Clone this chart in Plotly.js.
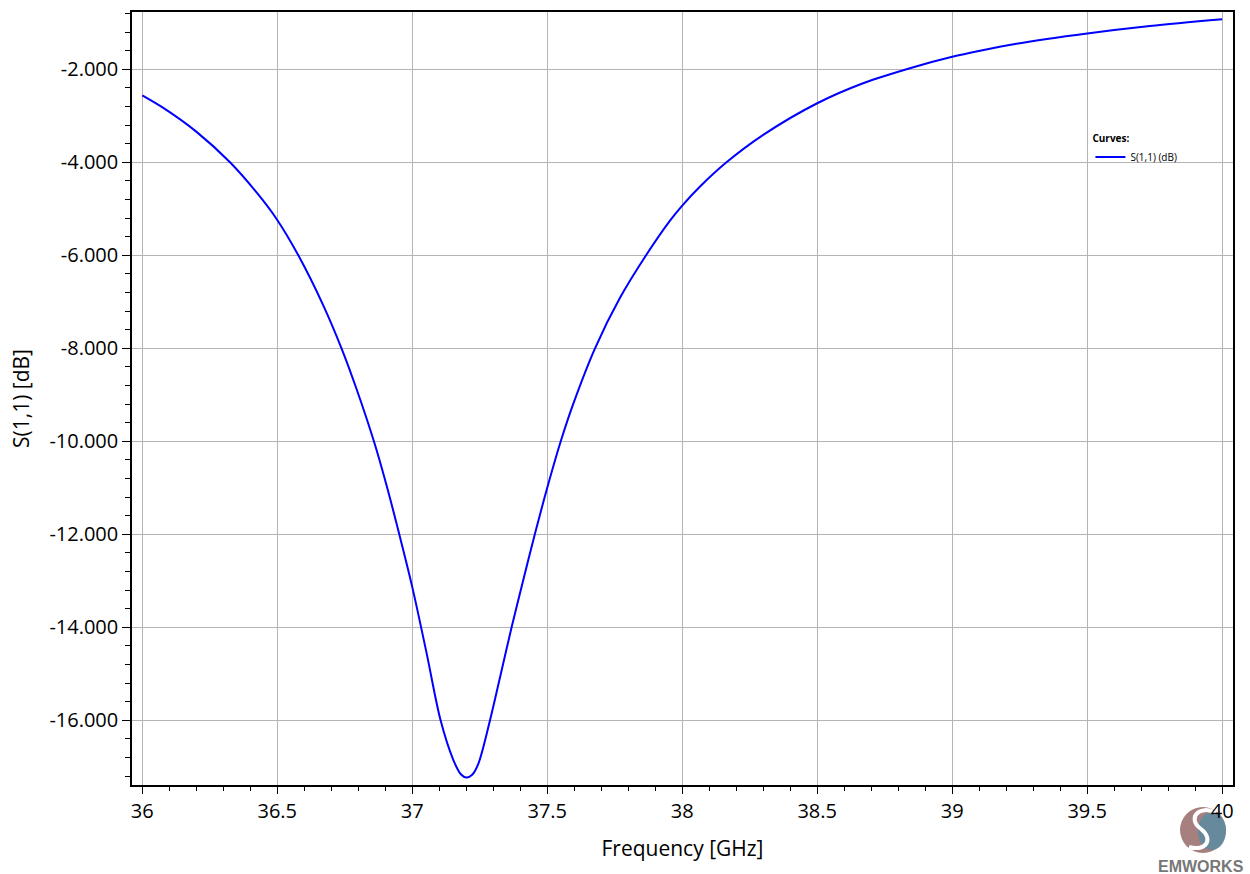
<!DOCTYPE html>
<html>
<head>
<meta charset="utf-8">
<script src="https://cdn.plot.ly/plotly-3.0.1.min.js"></script>
<style>html,body{margin:0;padding:0;background:#fff;}#chart{width:1250px;height:874px;}</style>
</head>
<body>
<div id="chart"></div>
<script>
const freqGHz = [36.0, 36.078, 36.2, 36.325, 36.425, 36.5, 36.578, 36.67, 36.738, 36.794, 36.858, 36.905, 36.952, 37.0, 37.053, 37.105, 37.152, 37.18, 37.2, 37.222, 37.245, 37.288, 37.325, 37.368, 37.411, 37.454, 37.5, 37.55, 37.596, 37.677, 37.769, 37.866, 37.954, 38.0, 38.066, 38.164, 38.3, 38.5, 38.67, 38.856, 39.0, 39.103, 39.238, 39.5, 39.732, 40.0];
const s11dB = [-2.56, -2.83, -3.34, -4.0, -4.66, -5.24, -6.0, -7.07, -8.0, -8.88, -10.0, -10.95, -12.0, -13.13, -14.55, -16.0, -16.85, -17.16, -17.23, -17.17, -16.93, -16.0, -15.08, -14.0, -12.99, -12.0, -11.0, -10.0, -9.2, -8.0, -6.92, -6.0, -5.26, -4.93, -4.52, -4.0, -3.41, -2.73, -2.3, -1.955, -1.73, -1.6, -1.45, -1.23, -1.07, -0.925];
const yTickVals = [-2, -4, -6, -8, -10, -12, -14, -16];
const yTickText = ["-2.000", "-4.000", "-6.000", "-8.000", "-10.000", "-12.000", "-14.000", "-16.000"];
const xTickVals = [36, 36.5, 37, 37.5, 38, 38.5, 39, 39.5, 40];
const xTickText = ["36", "36.5", "37", "37.5", "38", "38.5", "39", "39.5", "40"];
const seriesName = "S(1,1) (dB)";

const fontFam = "'Open Sans', 'Noto Sans', sans-serif";
const px = v => (v - 132) / 1101;
const py = v => (785 - v) / 773;

const trace = {
  x: freqGHz, y: s11dB, type: 'scatter', mode: 'lines', name: seriesName,
  line: {color: '#0000ff', width: 2, shape: 'spline', smoothing: 0.9}
};

function sPath() {
  const p = [[1216, 813], [1200, 804], [1186, 818], [1201, 829], [1214, 839], [1206, 852], [1189, 847]];
  const f = q => px(q[0]) + ',' + py(q[1]);
  return 'M ' + f(p[0]) + ' C ' + f(p[1]) + ' ' + f(p[2]) + ' ' + f(p[3]) + ' C ' + f(p[4]) + ' ' + f(p[5]) + ' ' + f(p[6]);
}

const layout = {
  width: 1250, height: 874,
  margin: {l: 132, r: 17, t: 12, b: 89},
  paper_bgcolor: '#ffffff', plot_bgcolor: '#ffffff',
  font: {family: fontFam, color: '#000'},
  showlegend: true,
  legend: {
    x: 0.8705, y: 0.848, xanchor: 'left', yanchor: 'top',
    bgcolor: 'rgba(0,0,0,0)',
    font: {size: 10, family: fontFam},
    title: {text: '<b>Curves:</b>', side: 'top', font: {size: 10, family: fontFam}},
    itemwidth: 30, tracegroupgap: 0
  },
  xaxis: {
    range: [35.962, 40.040],
    tickmode: 'array', tickvals: xTickVals, ticktext: xTickText,
    ticks: 'outside', ticklen: 7, tickwidth: 1, tickcolor: '#000',
    minor: {tickmode: 'linear', tick0: 36, dtick: 0.1, ticks: 'outside', ticklen: 4, tickcolor: '#000', showgrid: false},
    showline: true, linecolor: '#000', linewidth: 1.5, mirror: true,
    showgrid: true, gridcolor: '#b4b4b4', gridwidth: 1,
    zeroline: false,
    tickfont: {size: 20, family: fontFam},
    title: {text: 'Frequency [GHz]', font: {size: 21, family: fontFam}, standoff: 19}
  },
  yaxis: {
    range: [-17.391, -0.768],
    tickmode: 'array', tickvals: yTickVals, ticktext: yTickText,
    ticks: 'outside', ticklen: 8, tickwidth: 1, tickcolor: '#000',
    minor: {tickmode: 'linear', tick0: 0, dtick: 0.4, ticks: 'outside', ticklen: 5, tickcolor: '#000', showgrid: false},
    showline: true, linecolor: '#000', linewidth: 1.5, mirror: true,
    showgrid: true, gridcolor: '#b4b4b4', gridwidth: 1,
    zeroline: false,
    tickfont: {size: 20, family: fontFam},
    title: {text: 'S(1,1) [dB]', font: {size: 21, family: fontFam}, standoff: 14}
  },
  shapes: [
    {type: 'circle', xref: 'paper', yref: 'paper', layer: 'below',
     x0: px(1180), x1: px(1226), y0: py(853), y1: py(807),
     fillcolor: 'rgba(150,105,105,0.85)', line: {width: 0}},
    {type: 'circle', xref: 'paper', yref: 'paper', layer: 'below',
     x0: px(1198), x1: px(1226), y0: py(850), y1: py(812),
     fillcolor: 'rgba(90,140,160,0.85)', line: {width: 0}},
    {type: 'path', xref: 'paper', yref: 'paper', layer: 'below',
     path: sPath(), line: {color: '#ffffff', width: 4}}
  ],
  annotations: [
    {text: '<b>EMWORKS</b>', xref: 'paper', yref: 'paper', x: px(1201), y: py(866),
     showarrow: false, font: {size: 16, color: '#777777', family: 'Liberation Sans, Arial, sans-serif'}, xanchor: 'center', yanchor: 'middle'}
  ]
};

Plotly.newPlot('chart', [trace], layout, {displayModeBar: false, responsive: false});
</script>
</body>
</html>
